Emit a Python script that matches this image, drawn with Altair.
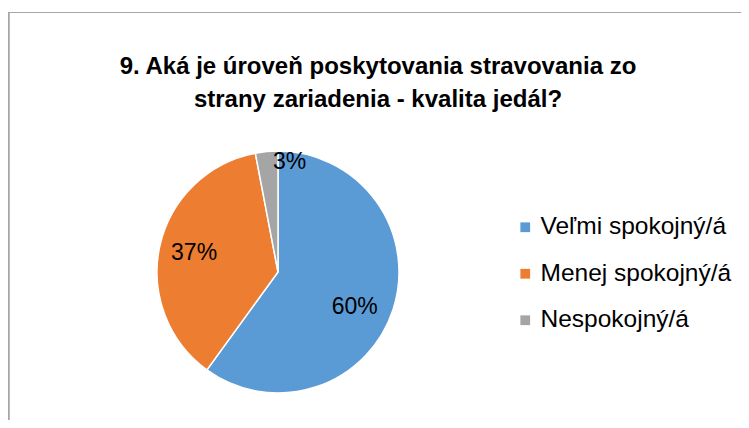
import altair as alt
import pandas as pd

categories = ["Veľmi spokojný/á", "Menej spokojný/á", "Nespokojný/á"]
values = [60, 37, 3]
labels = ["60%", "37%", "3%"]
colors = ["#5B9BD5", "#ED7D31", "#A5A5A5"]
title_lines = ["9. Aká je úroveň poskytovania stravovania zo",
               "strany zariadenia - kvalita jedál?"]

df = pd.DataFrame({
    "category": categories,
    "value": values,
    "label": labels,
    "order": list(range(len(categories))),
})

FONT = "Liberation Sans"
CX, CY, R = 270, 264, 121

base = alt.Chart(df)

color = alt.Color(
    "category:N",
    scale=alt.Scale(domain=categories, range=colors),
    sort=categories,
    legend=alt.Legend(
        title=None, orient="none", legendX=505, legendY=207, padding=0,
        symbolType="square", symbolSize=95, symbolStrokeWidth=0,
        labelFont=FONT, labelFontSize=24.5, labelColor="#000000",
        labelOffset=3, rowPadding=21.5, labelLimit=300,
    ),
)

pie = base.mark_arc(outerRadius=R, stroke="white", strokeWidth=1.5).encode(
    theta=alt.Theta("value:Q", stack=True),
    order=alt.Order("order:Q"),
    color=color,
    x=alt.value(CX), y=alt.value(CY),
)

lab_base = base.transform_window(
    cum="sum(value)", sort=[alt.SortField("order")]
).transform_joinaggregate(total="sum(value)").transform_calculate(
    mid="(datum.cum - datum.value/2) / datum.total * 2 * PI"
)

def label_layer(cat, r, dx=0, dy=0):
    return lab_base.transform_filter(alt.datum.category == cat).mark_text(
        font=FONT, fontSize=23, color="#000000", baseline="middle", align="center",
        dx=dx, dy=dy,
    ).encode(
        theta=alt.Theta("mid:Q", scale=None),
        radius=alt.value(r),
        text="label:N",
        x=alt.value(CX), y=alt.value(CY),
    )

l1 = label_layer(categories[0], 86, dx=-5, dy=8)
l2 = label_layer(categories[1], 86)
l3 = label_layer(categories[2], 110, dx=22, dy=0)

tdf = pd.DataFrame({"t": title_lines})
t1 = alt.Chart(tdf).transform_filter(alt.datum.t == title_lines[0]).mark_text(
    font=FONT, fontSize=24, fontWeight="bold", color="#000000", baseline="middle", align="center"
).encode(text="t:N", x=alt.value(370), y=alt.value(59))
t2 = alt.Chart(tdf).transform_filter(alt.datum.t == title_lines[1]).mark_text(
    font=FONT, fontSize=24, fontWeight="bold", color="#000000", baseline="middle", align="center"
).encode(text="t:N", x=alt.value(370), y=alt.value(92))

border_top = alt.Chart(tdf).mark_rule(color="#A6A6A6", strokeWidth=1).encode(
    x=alt.value(0), x2=alt.value(733), y=alt.value(4.5)
)
border_left = alt.Chart(tdf).mark_rule(color="#A6A6A6", strokeWidth=1.5).encode(
    x=alt.value(0.75), y=alt.value(4.5), y2=alt.value(412)
)

chart = alt.layer(border_top, border_left, pie, l1, l2, l3, t1, t2).properties(
    width=733, height=412,
    padding=0, autosize="none",
    background="white",
).configure_view(stroke=None)

chart.save("out.html", embed_options={"renderer": "svg", "actions": False})
